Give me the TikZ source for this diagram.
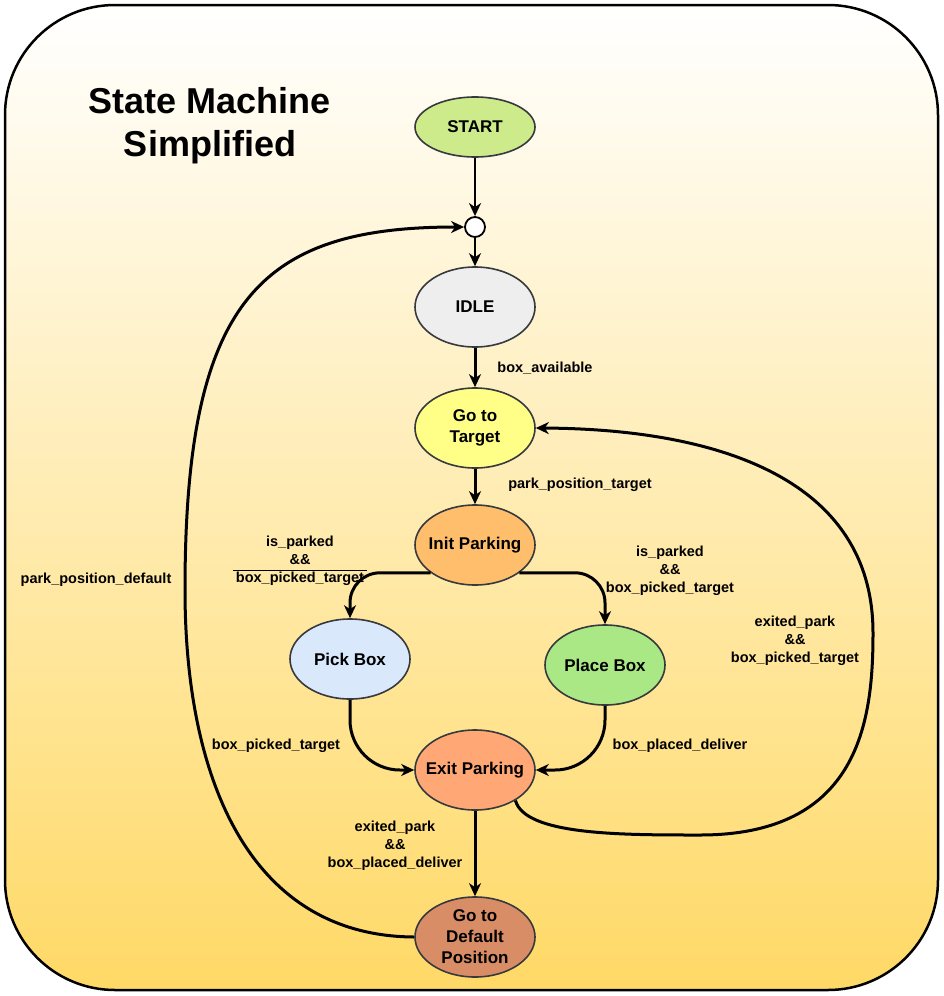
\documentclass[tikz,border=0pt]{standalone}
\usepackage{fontspec}
\setmainfont{Liberation Sans}
\usetikzlibrary{shapes.geometric, arrows.meta}

\definecolor{bgBottom}{HTML}{FFD966}
\definecolor{edgeGrey}{HTML}{36393D}
\definecolor{startGreen}{HTML}{CDEB8B}
\definecolor{idleGrey}{HTML}{EEEEEE}
\definecolor{targetYellow}{HTML}{FFFF88}
\definecolor{initOrange}{HTML}{FFBE6C}
\definecolor{pickBlue}{HTML}{DAE8FC}
\definecolor{placeGreen}{HTML}{A9E884}
\definecolor{exitOrange}{HTML}{FFA875}
\definecolor{defaultBrown}{HTML}{D98D66}

\begin{document}
\begin{tikzpicture}[x=1pt, y=-1pt,
    state/.style={draw=edgeGrey, ellipse, line width=1.6pt, minimum width=120pt, minimum height=80pt,
        inner xsep=-8pt, inner ysep=-6pt, align=center, font=\fontsize{17}{21}\selectfont\bfseries},
    lbl/.style={align=center, font=\fontsize{14.5}{18}\selectfont\bfseries},
    flow/.style={-{Stealth[length=13pt, width=12pt, inset=4pt]}, line width=3pt}]
    \useasboundingbox (0,0) rectangle (944,996);
    \draw[line width=2.5pt, rounded corners=110pt, top color=white, bottom color=bgBottom] (5,5) rectangle (938,990);

    \node[font=\fontsize{36}{43}\selectfont\bfseries, align=center] (Title) at (210,126) {State Machine\\Simplified};

    \node[state, fill=startGreen, minimum height=60pt] (Start) at (475,127) {START};
    \node[draw, circle, fill=white, line width=1.8pt, minimum size=20pt, inner sep=0pt] (Junc) at (475,227) {};
    \node[state, fill=idleGrey] (Idle) at (475,307) {IDLE};
    \node[state, fill=targetYellow] (Target) at (475,428) {Go to\\Target};
    \node[state, fill=initOrange] (InitPark) at (475,545) {Init Parking};
    \node[state, fill=pickBlue] (PickBox) at (350,659) {Pick Box};
    \node[state, fill=placeGreen] (PlaceBox) at (605,665) {Place Box};
    \node[state, fill=exitOrange] (ExitPark) at (475,770) {Exit Parking};
    \node[state, fill=defaultBrown] (Default) at (475,937) {Go to\\Default\\Position};

    \draw[flow, line width=2.2pt] (Start) -- (Junc);
    \draw[flow, line width=2.2pt] (Junc) -- (Idle);
    \draw[flow] (Idle) -- (Target);
    \draw[flow] (Target) -- (InitPark);
    \draw[flow, rounded corners=30pt] (InitPark.212) -| (PickBox.north);
    \draw[flow, rounded corners=30pt] (InitPark.328) -| (PlaceBox.north);
    \draw[flow, rounded corners=50pt] (PickBox.south) |- (ExitPark.west);
    \draw[flow, rounded corners=50pt] (PlaceBox.south) |- (ExitPark.east);
    \draw[flow] (ExitPark) -- (Default);
    \draw[flow] (ExitPark.323) .. controls (525,835) and (620,835) .. (700,835)
        .. controls (860,835) and (873,720) .. (873,633)
        .. controls (873,480) and (720,429) .. (Target.east);
    \draw[flow] (Default.west) .. controls (250,936) and (185,780) .. (185,590)
        .. controls (185,300) and (260,227) .. (Junc.west);

    % transition labels
    \node[lbl] (LblAvail) at (545,368) {box\_available};
    \node[lbl] (LblParkTarget) at (580,485) {park\_position\_target};
    \node[lbl] (LblPick) at (300,561) {\begin{tabular}{@{\hspace{3pt}}c@{\hspace{3pt}}}is\_parked\\ \&\&\\ \hline box\_picked\_target\end{tabular}};
    \node[lbl] (LblPlace) at (670,571) {is\_parked\\\&\&\\box\_picked\_target};
    \node[lbl] (LblRetry) at (795,641) {exited\_park\\\&\&\\box\_picked\_target};
    \node[lbl] (LblPicked) at (276,746) {box\_picked\_target};
    \node[lbl] (LblPlaced) at (680,746) {box\_placed\_deliver};
    \node[lbl] (LblExit) at (395,846) {exited\_park\\\&\&\\box\_placed\_deliver};
    \node[lbl] (LblDefault) at (96,580) {park\_position\_default};
\end{tikzpicture}
\end{document}
